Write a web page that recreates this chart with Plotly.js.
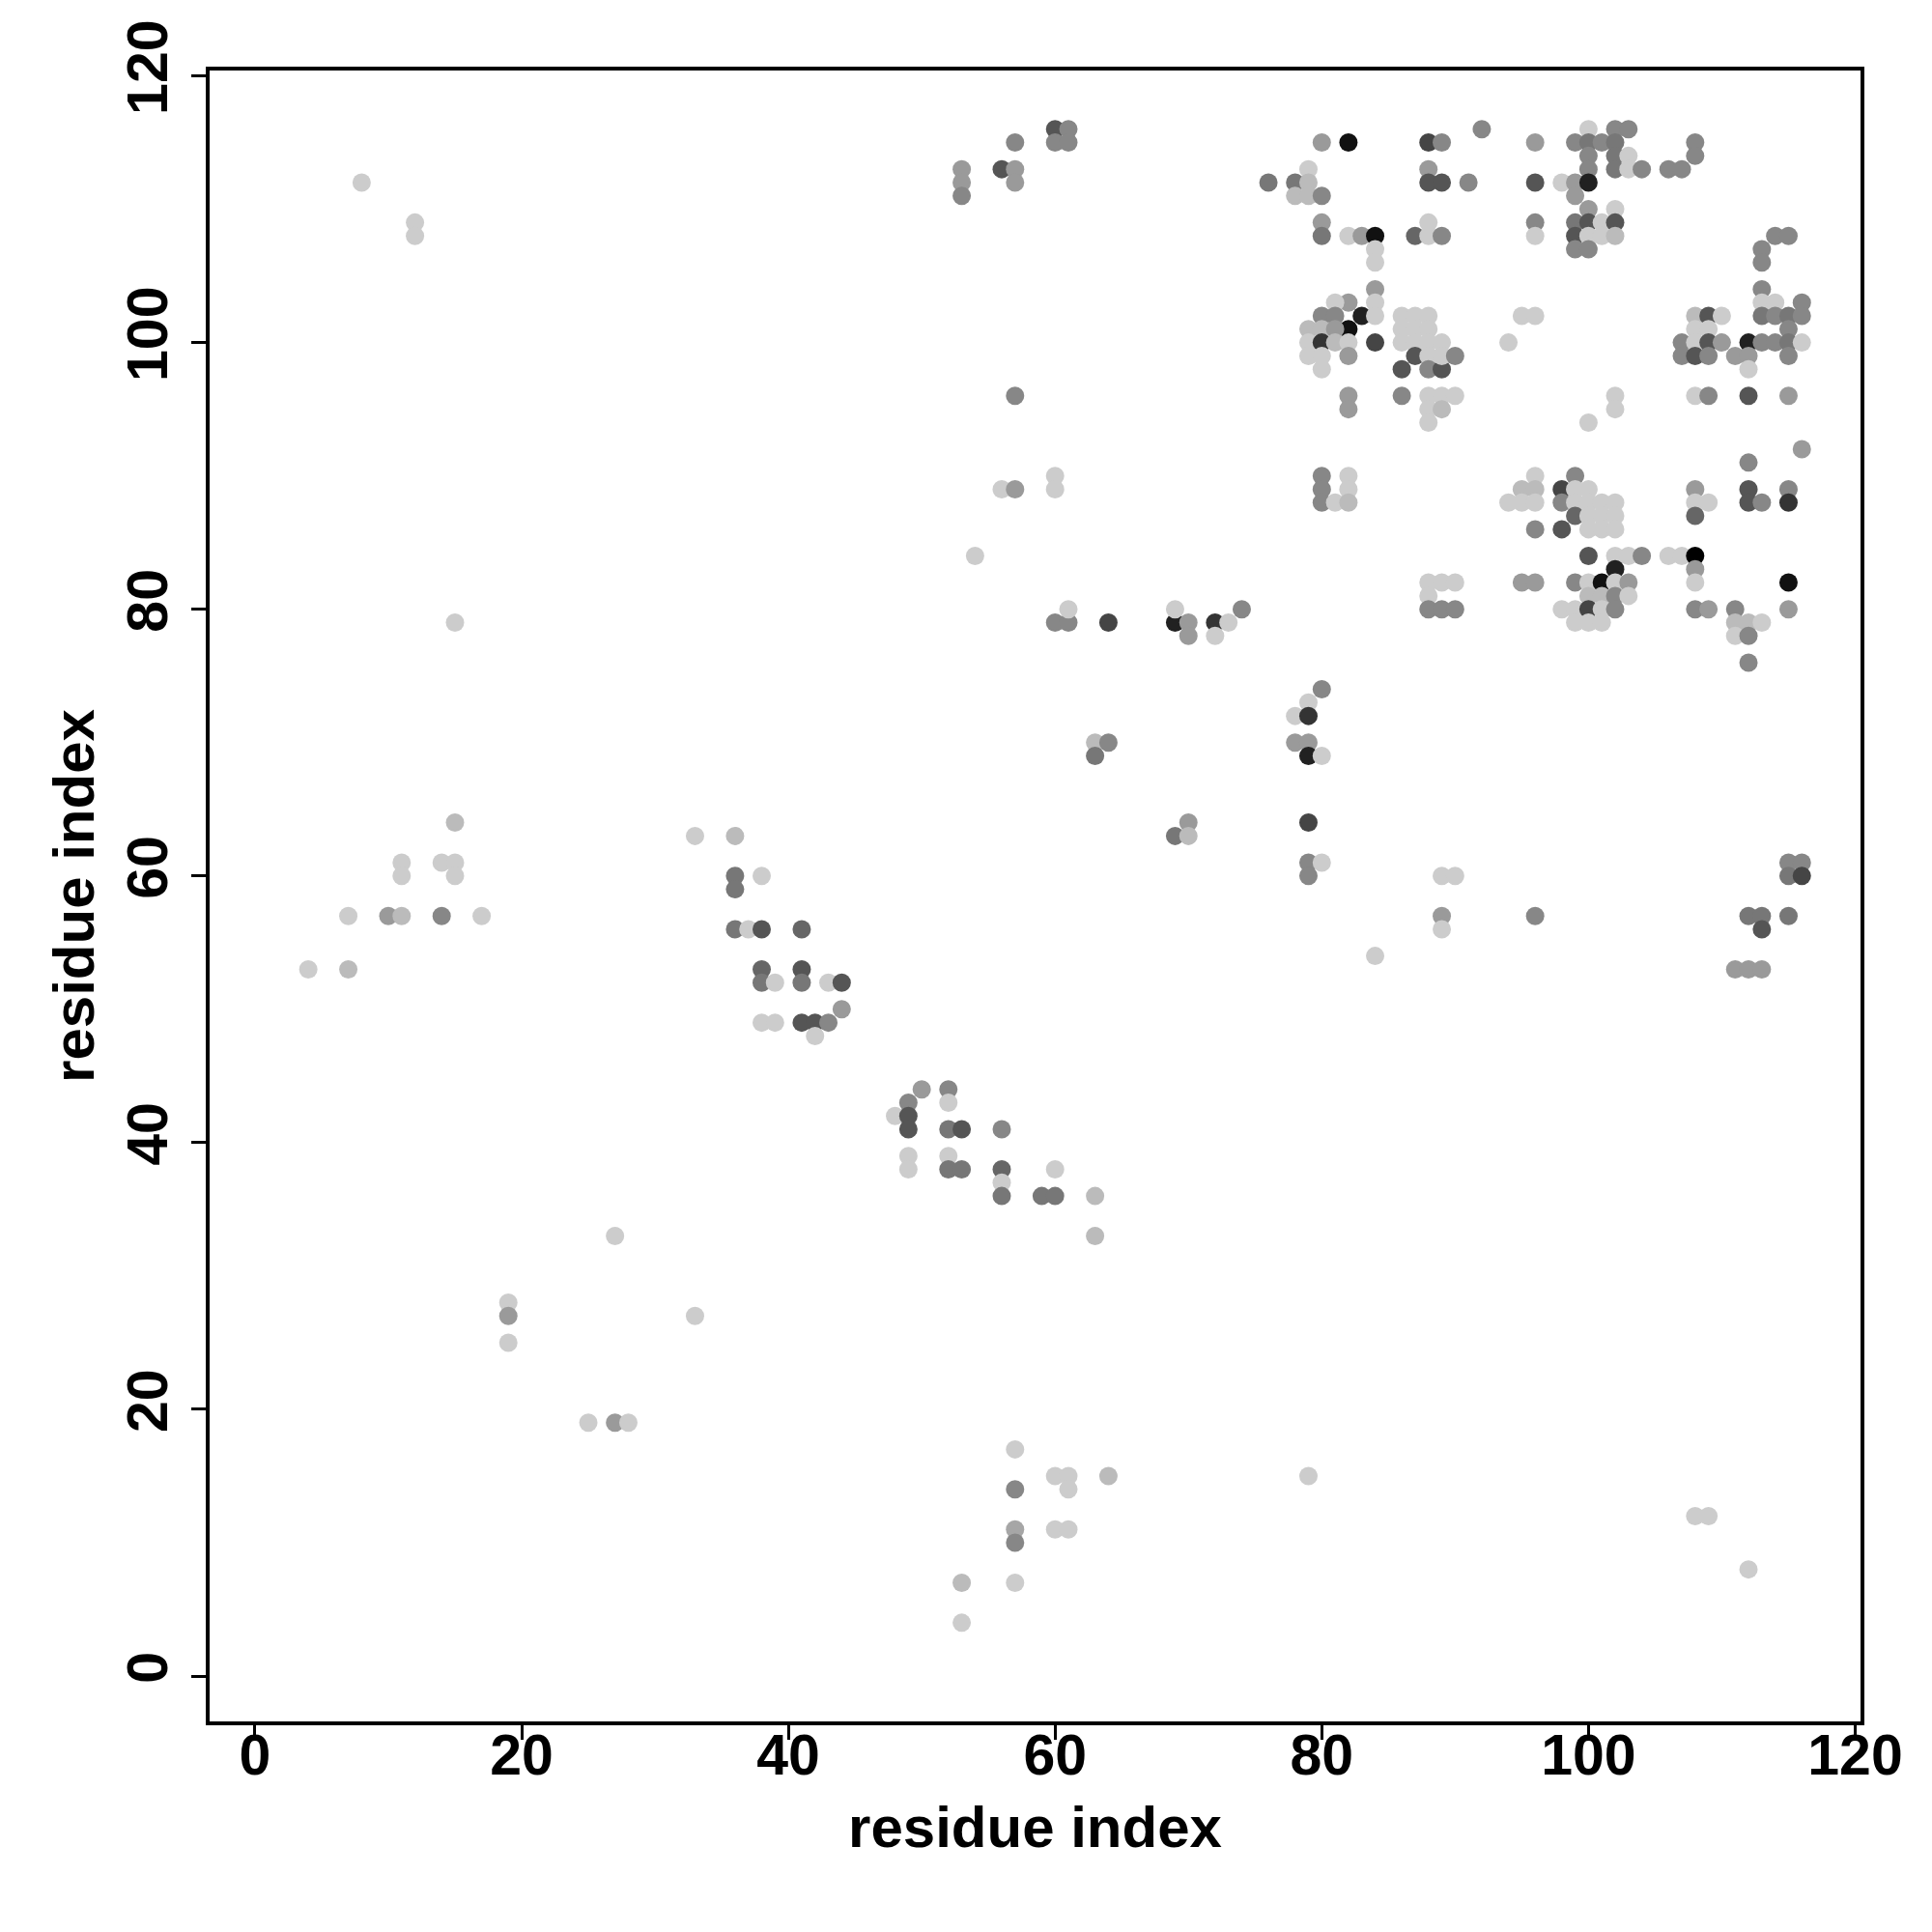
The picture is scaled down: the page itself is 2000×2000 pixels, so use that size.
<!DOCTYPE html>
<html>
<head>
<meta charset="utf-8">
<script src="https://cdn.plot.ly/plotly-3.0.1.min.js"></script>
<style>html,body{margin:0;padding:0;background:#fff;}#chart{width:2000px;height:2000px;}</style>
</head>
<body>
<div id="chart"></div>
<script>
// contact map: residue i, residue j, contact score (0 = faint, 1 = strong)
const resI = [
 8,12,12,15,15,11,11,14,15,15,7,10,11,14,17,4,7,
 19,19,19,27,33,25,27,28,
 33,36,36,36,38,36,37,38,38,38,39,41,41,41,43,44,44,38,39,41,42,43,42,
 50,52,52,49,48,49,49,52,53,56,49,49,52,52,53,56,56,56,59,60,60,63,63,
 57,57,60,61,61,64,79,57,57,60,61,53,57,53,108,109,112,
 53,53,53,56,57,57,57,60,61,60,61,57,56,57,60,60,54,
 60,61,61,64,69,69,70,70,72,72,73,74,
 80,79,78,79,78,79,79,80,63,64,63,70,69,70,79,79,80,79,89,90,89,89,84,96,
 112,113,113,111,112,113,115,116,115,116,115,
 80,82,88,89,79,76,78,79,78,79,80,88,88,89,80,80,82,83,84,84,84,84,84,82,81,83,87,88,88,89,
 80,81,84,82,79,80,81,79,80,81,82,84,79,80,82,80,
 86,87,88,86,87,88,86,87,88,89,87,88,86,88,89,89,90,
 82,82,86,88,88,88,89,90,89,
 80,80,80,81,82,82,82,
 88,89,90,88,88,89,90,
 92,96,100,102,103,99,100,101,102,100,102,103,100,102,103,104,106,107,108,108,91,96,98,99,100,99,100,102,96,96,99,100,101,102,99,100,101,102,99,100,
 114,115,113,113,113,113,114,116,113,114,115,116,115,112,113,114,115,116,115,111,112,112,
 108,109,110,108,109,107,108,109,110,107,108,109,95,96,94,
 102,102,100,108,109,112,115,116,112,96,99,95,96,98,99,100,94,95,96,98,99,100,101,102,99,100,101,102,96,98,100,101,102,
 108,108,109,108,112,112,113,115,115,
 100,102,103,104,106,107,108,108,108,102,99,100,101,102,103,100,101,102,103,98,99,100,101,102,99,100,101,95,96,108,109,111,111,112,113,111,112,112,115,115
];
const resJ = [
 112,109,108,79,64,61,60,61,61,60,57,57,57,57,57,53,53,
 28,27,25,33,27,19,19,19,
 63,63,60,59,60,56,56,56,53,52,52,56,53,52,52,52,50,49,49,49,49,49,48,
 44,44,43,43,42,42,41,41,41,41,39,38,39,38,38,38,37,36,36,36,38,36,33,
 17,14,15,15,14,15,15,11,10,11,11,7,7,4,12,12,8,
 113,112,111,113,113,112,115,116,116,115,115,96,89,89,90,89,84,
 79,79,80,79,79,80,79,78,79,78,79,80,
 74,73,72,72,70,70,69,69,70,70,69,64,63,63,64,61,61,60,60,60,57,56,54,57,
 57,57,56,53,53,53,61,61,60,60,57,
 115,115,115,115,113,112,112,112,111,111,111,113,112,112,109,108,108,108,108,107,106,104,103,103,103,102,108,109,108,108,
 102,102,102,101,101,101,101,100,100,100,100,100,99,99,99,98,
 102,102,102,101,101,101,100,100,100,100,99,99,98,98,98,99,99,
 96,95,96,96,95,94,96,96,95,
 90,89,88,88,90,89,88,
 82,82,82,81,80,80,80,
 116,115,116,116,116,115,115,115,115,114,114,114,113,113,113,113,113,113,115,114,112,112,112,112,112,111,110,110,109,108,109,109,109,109,108,108,108,108,107,107,
 108,108,107,106,104,103,103,103,102,102,102,102,101,100,100,100,100,100,99,99,99,98,
 102,102,102,101,101,100,100,100,100,99,99,99,102,102,100,
 96,95,94,96,96,96,96,92,91,90,90,89,89,89,89,89,88,88,88,88,88,88,88,88,87,87,87,87,86,86,86,86,86,
 89,88,88,87,89,88,88,89,88,
 84,84,84,84,84,84,84,83,82,83,82,82,82,82,82,81,81,81,81,80,80,80,80,80,79,79,79,82,82,80,80,80,79,79,79,78,78,76,82,80
];
const score = [
 0.02,0.02,0.02,0.02,0.10,0.02,0.02,0.02,0.02,0.02,0.02,0.26,0.10,0.35,0.02,0.02,0.10,
 0.02,0.26,0.02,0.02,0.02,0.02,0.26,0.02,
 0.02,0.10,0.43,0.43,0.02,0.43,0.02,0.59,0.51,0.43,0.02,0.51,0.59,0.43,0.02,0.59,0.26,0.02,0.02,0.59,0.59,0.35,0.02,
 0.26,0.35,0.02,0.35,0.02,0.59,0.59,0.43,0.59,0.35,0.02,0.02,0.02,0.43,0.43,0.51,0.02,0.43,0.43,0.43,0.02,0.10,0.10,
 0.02,0.35,0.02,0.02,0.02,0.10,0.02,0.20,0.35,0.02,0.02,0.10,0.02,0.02,0.02,0.02,0.02,
 0.26,0.26,0.35,0.59,0.26,0.26,0.35,0.59,0.35,0.35,0.35,0.35,0.02,0.26,0.02,0.02,0.02,
 0.35,0.35,0.02,0.67,0.84,0.02,0.26,0.26,0.75,0.02,0.02,0.35,
 0.35,0.02,0.02,0.75,0.26,0.26,0.84,0.02,0.10,0.35,0.43,0.26,0.43,0.10,0.67,0.35,0.02,0.35,0.02,0.02,0.26,0.02,0.02,0.35,
 0.43,0.43,0.59,0.26,0.26,0.26,0.35,0.35,0.43,0.67,0.43,
 0.26,0.92,0.67,0.35,0.02,0.43,0.43,0.10,0.10,0.10,0.35,0.26,0.59,0.59,0.26,0.43,0.02,0.26,0.92,0.02,0.02,0.26,0.02,0.26,0.02,0.84,0.51,0.02,0.02,0.35,
 0.35,0.35,0.02,0.92,0.10,0.10,0.26,0.02,0.75,0.10,0.02,0.67,0.02,0.02,0.26,0.02,
 0.02,0.02,0.02,0.02,0.02,0.02,0.02,0.02,0.02,0.02,0.59,0.02,0.59,0.35,0.59,0.02,0.35,
 0.26,0.26,0.35,0.02,0.02,0.02,0.02,0.02,0.10,
 0.35,0.35,0.35,0.02,0.02,0.02,0.10,
 0.02,0.02,0.02,0.02,0.35,0.35,0.35,
 0.35,0.26,0.02,0.35,0.35,0.35,0.43,0.35,0.43,0.35,0.43,0.02,0.35,0.43,0.02,0.35,0.35,0.35,0.35,0.35,0.35,0.59,0.02,0.26,0.84,0.26,0.26,0.02,0.35,0.02,0.43,0.59,0.02,0.59,0.59,0.02,0.02,0.10,0.35,0.35,
 0.35,0.35,0.35,0.35,0.35,0.02,0.02,0.35,0.43,0.35,0.43,0.35,0.35,0.84,0.35,0.35,0.43,0.02,0.35,0.26,0.26,0.02,
 0.10,0.59,0.02,0.02,0.02,0.35,0.02,0.59,0.26,0.35,0.59,0.35,0.02,0.02,0.02,
 0.02,0.02,0.02,0.02,0.35,0.59,0.26,0.26,0.35,0.02,0.35,0.10,0.10,0.67,0.02,0.02,0.02,0.02,0.02,0.35,0.02,0.02,0.02,0.02,0.51,0.02,0.02,0.02,0.35,0.59,0.02,0.02,0.02,
 0.26,0.02,0.02,0.51,0.59,0.59,0.35,0.35,0.75,
 0.59,0.02,0.02,0.35,0.02,0.02,1.00,0.26,0.02,0.84,0.35,0.02,0.92,0.02,0.26,0.10,0.10,0.35,0.02,0.02,0.02,0.67,0.02,0.35,0.02,0.02,0.02,0.26,0.26,0.35,0.26,0.35,0.10,0.10,0.02,0.02,0.35,0.35,0.92,0.26
];
const tickVals = [0, 20, 40, 60, 80, 100, 120];
const tickText = ['0', '20', '40', '60', '80', '100', '120'];
const axisLabel = 'residue index';

const font = {family: 'Liberation Sans, Arial, sans-serif', color: '#000', weight: 'bold'};

const trace = {
  type: 'scatter', mode: 'markers',
  x: resI, y: resJ,
  marker: {
    size: 19,
    color: score, cmin: 0, cmax: 1,
    colorscale: [[0, '#d0d0d0'], [1, '#000000']],
    showscale: false,
    line: {width: 0}
  },
  hoverinfo: 'x+y'
};

const axisCommon = {
  showgrid: false, zeroline: false,
  showline: true, linecolor: '#000', linewidth: 4, mirror: true,
  ticks: 'outside', ticklen: 15, tickwidth: 3, tickcolor: '#000',
  tickmode: 'array', tickvals: tickVals, ticktext: tickText,
  tickfont: Object.assign({size: 59}, font),
  range: [-3.4, 120.4], automargin: false
};

const layout = {
  width: 2000, height: 2000,
  paper_bgcolor: '#fff', plot_bgcolor: '#fff',
  margin: {l: 217, r: 74, t: 73, b: 218},
  showlegend: false,
  xaxis: Object.assign({}, axisCommon, {
    ticklabelstandoff: -35,
    title: {text: axisLabel, font: Object.assign({size: 60}, font), standoff: 22}
  }),
  yaxis: Object.assign({}, axisCommon, {
    tickangle: -90,
    ticklabelstandoff: 1,
    title: {text: axisLabel, font: Object.assign({size: 60}, font), standoff: 4}
  })
};

Plotly.newPlot('chart', [trace], layout, {displayModeBar: false, staticPlot: true});
</script>
</body>
</html>
